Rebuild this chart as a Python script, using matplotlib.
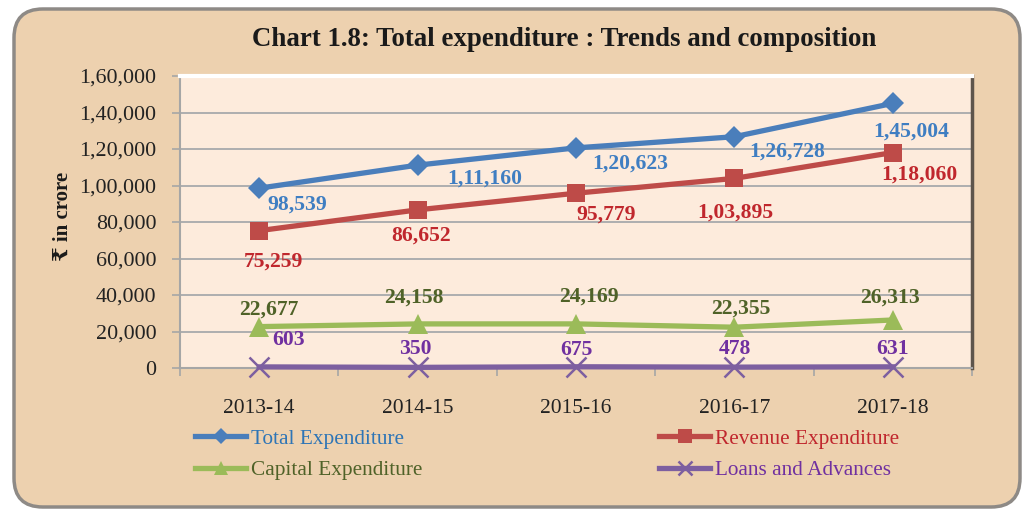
#!/usr/bin/env python3
"""Chart 1.8: total expenditure trends and composition."""
import matplotlib; matplotlib.use("Agg")
import matplotlib.pyplot as plt
from matplotlib.patches import FancyBboxPatch
from matplotlib.ticker import FuncFormatter

years = ["2013-14", "2014-15", "2015-16", "2016-17", "2017-18"]
total = [98539, 111160, 120623, 126728, 145004]
revenue = [75259, 86652, 95779, 103895, 118060]
capital = [22677, 24158, 24169, 22355, 26313]
loans = [603, 350, 675, 478, 631]
yticks = list(range(0, 160001, 20000))

plt.rcParams["font.family"] = ["Liberation Serif", "DejaVu Serif"]


def inr(v, pos=None):
    # Indian digit grouping: 1,60,000
    s = str(int(round(v)))
    if len(s) <= 3:
        return s
    head, tail = s[:-3], s[-3:]
    parts = []
    while len(head) > 2:
        parts.insert(0, head[-2:]); head = head[:-2]
    if head:
        parts.insert(0, head)
    return ",".join(parts + [tail])


W, H = 1029, 515
fig = plt.figure(figsize=(W / 100, H / 100), dpi=100)
fig.patch.set_facecolor("white")
frame = FancyBboxPatch((14 / W, 8 / H), 1006 / W, 498 / H, transform=fig.transFigure,
                       boxstyle="round,pad=0,rounding_size=0.028", mutation_aspect=2.0,
                       facecolor="#EDD1AF", edgecolor="#8E8A86", lw=2.5, zorder=-5)
fig.patches.append(frame)

ax = fig.add_axes([180 / W, 1 - 368 / H, 792 / W, 292 / H], zorder=2)
ax.set_facecolor("#FDEBDC")
x = list(range(len(years)))

series = [
    (total, "Total Expenditure", "#4A7EBB", "D", 11, "#3F7EC2",
     [(38, -16), (67, -13), (54, -16), (53, -15), (18, -28)]),
    (revenue, "Revenue Expenditure", "#BE4B48", "s", 13, "#C0272D",
     [(14, -31), (3, -26), (30, -21), (1, -34), (27, -22)]),
    (capital, "Capital Expenditure", "#9BBB59", "^", 14, "#4F6228",
     [(10, 17), (-4, 26), (13, 27), (6, 19), (-3, 22)]),
    (loans, "Loans and Advances", "#7D5FA0", "x", 14, "#7030A0",
     [(29, 27), (-2, 18), (0, 17), (1, 18), (0, 18)]),
]
handles = {}
for vals, name, col, mk, ms, lcol, offs in series:
    h, = ax.plot(x, vals, color=col, lw=3.8, marker=mk, ms=ms, mew=1.8 if mk == "x" else 0,
                 mec=col, mfc=col, zorder=3, clip_on=False, label=name)
    handles[name] = (h, lcol)
    for xi, v, (dx, dy) in zip(x, vals, offs):
        ax.annotate(inr(v), (xi, v), xytext=(dx, dy), textcoords="offset pixels",
                    ha="center", va="center", fontsize=15.6, fontweight="bold",
                    color=lcol, zorder=4)

ax.set_xlim(-0.5, len(years) - 0.5)
ax.set_ylim(0, 160000)
ax.set_yticks(yticks)
ax.yaxis.set_major_formatter(FuncFormatter(inr))
ax.set_xticks(x)
ax.set_xticklabels(years)
ax.set_xticks([i - 0.5 for i in range(len(years) + 1)], minor=True)
ax.tick_params(axis="x", which="major", length=0, pad=22, labelsize=15.5, labelcolor="#222222")
ax.tick_params(axis="x", which="minor", length=6, color="#A6A6A6", width=1.2)
ax.tick_params(axis="y", length=6, color="#A6A6A6", width=1.2, pad=11,
               labelsize=15.8, labelcolor="#222222")
ax.grid(axis="y", color="#A0A4A8", lw=1.2, zorder=1)
ax.set_axisbelow(True)
for s in ("left", "bottom"):
    ax.spines[s].set_color("#A6A6A6"); ax.spines[s].set_linewidth(1.5)
ax.spines["top"].set_color("#FFFFFF"); ax.spines["top"].set_linewidth(3)
ax.spines["right"].set_color("#5E554C"); ax.spines["right"].set_linewidth(2.5)

fig.text(564 / W, 1 - 40 / H, "Chart 1.8: Total expenditure : Trends and composition",
         ha="center", va="center", fontsize=19.4, fontweight="bold", color="#1A1A1A")
fig.text(63 / W, 1 - 216 / H, "\u20b9 in crore", rotation=90, ha="center", va="center",
         fontsize=15, fontweight="bold", color="#1A1A1A")


def make_legend(names, anchor):
    hs = [handles[n][0] for n in names]
    lg = fig.legend(hs, names, loc="upper left", bbox_to_anchor=anchor, ncol=1,
                    frameon=False, fontsize=15.3, handlelength=2.4, handletextpad=0.25,
                    labelspacing=0.55, borderaxespad=0, borderpad=0, markerscale=0.75)
    for t, n in zip(lg.get_texts(), names):
        t.set_color(handles[n][1] if n != "Total Expenditure" else "#2E75B6")
    return lg


make_legend(["Total Expenditure", "Capital Expenditure"], (195 / W, 1 - 429 / H))
make_legend(["Revenue Expenditure", "Loans and Advances"], (659 / W, 1 - 429 / H))

fig.savefig("out.png", dpi=100)
